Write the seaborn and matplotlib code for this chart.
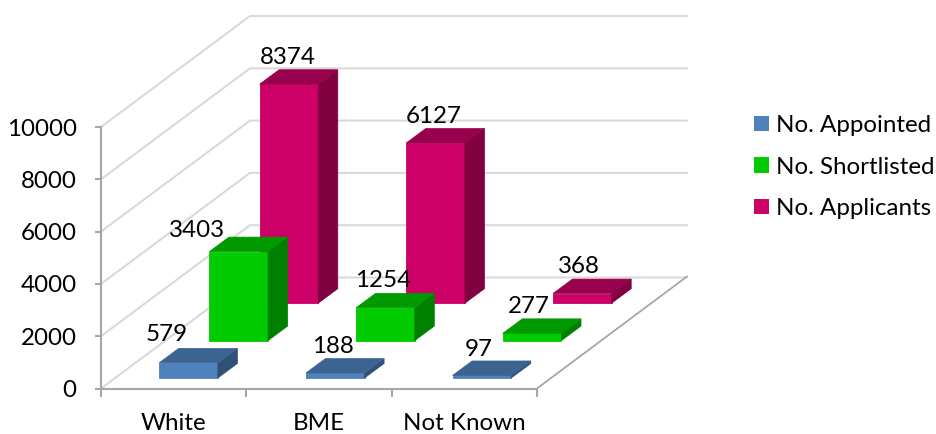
import matplotlib
matplotlib.use("Agg")
import matplotlib.pyplot as plt
import pandas as pd
import seaborn as sns
from matplotlib.patches import Patch, Polygon
from matplotlib.lines import Line2D
from matplotlib.transforms import Affine2D, IdentityTransform

categories = ["White", "BME", "Not Known"]
series_names = ["No. Appointed", "No. Shortlisted", "No. Applicants"]
appointed = [579, 188, 97]
shortlisted = [3403, 1254, 277]
applicants = [8374, 6127, 368]
y_ticks = [0, 2000, 4000, 6000, 8000, 10000]

FRONT = ["#4F81BD", "#00CC00", "#CC0066"]
TOP = ["#3C6491", "#009900", "#99004D"]
SIDE = ["#2F5079", "#008000", "#800040"]

W, H = 937, 434
AX_L, AX_R, AX_B, AX_T = 101, 537, 388.5, 127

sns.set_theme(style="white")
plt.rcParams["font.family"] = ["Lato", "DejaVu Sans"]
FS = 17.4

df = pd.DataFrame({
    "category": categories * 3,
    "series": sum([[s] * 3 for s in series_names], []),
    "value": appointed + shortlisted + applicants,
})

fig = plt.figure(figsize=(W / 100, H / 100), dpi=100, facecolor="white")
ax = fig.add_axes([AX_L / W, (H - AX_B) / H, (AX_R - AX_L) / W, (AX_B - AX_T) / H])
ax.patch.set_visible(False)

sns.barplot(data=df, x="category", y="value", hue="series", order=categories,
            hue_order=series_names, palette=FRONT, dodge=False, width=0.4,
            legend=False, ax=ax, saturation=1)
ax.set_xlim(-0.5, 2.5)
ax.set_ylim(0, 10000)
ax.set_xlabel("")
ax.set_ylabel("")

# Axis styling
AXIS_GREY = "#A6A6A6"
for side in ("top", "right"):
    ax.spines[side].set_visible(False)
for side in ("left", "bottom"):
    ax.spines[side].set_color(AXIS_GREY)
    ax.spines[side].set_linewidth(1.5)
ax.set_yticks(y_ticks)
ax.set_xticks([-0.5, 0.5, 1.5, 2.5], minor=True)
ax.tick_params(axis="y", length=4.5, width=1.5, color=AXIS_GREY, pad=13,
               labelsize=FS, labelcolor="black", left=True)
ax.tick_params(axis="x", which="minor", length=6, width=1.5, color=AXIS_GREY, bottom=True)
ax.tick_params(axis="x", which="major", length=0, pad=17.5, labelsize=FS, labelcolor="black")

fig.canvas.draw()

# Oblique floor and walls, in display pixels
DEPTH_X, DEPTH_Y = 149, 111
to_px = ax.transData
for v in y_ticks:
    x0, y0 = to_px.transform((-0.5, v))
    x1, y1 = x0 + DEPTH_X, y0 + DEPTH_Y
    fig.add_artist(Line2D([x0, x1, 687], [y0, y1, y1], transform=IdentityTransform(),
                          color="#D9D9D9", lw=1.5, zorder=0))
fx, fy = to_px.transform((2.5, 0))
fig.add_artist(Line2D([fx, 687], [fy, fy + DEPTH_Y + 1], transform=IdentityTransform(),
                      color=AXIS_GREY, lw=1.3, zorder=0))
ax.set_zorder(2)

# Each series sits one step further back on the floor
X_ANCHOR, _ = to_px.transform((0, 0))
Y_ANCHOR = H - AX_B
X_STRETCH = 146.7 / ((AX_R - AX_L) / 3)
STEP_X, STEP_Y = 50.2, 37.4
BAR_DX, BAR_DY = 14.8, 10.5
SIDE_DX, SIDE_DY = 19.6, 14.5

# Label nudges in pixels: (White, BME, Not Known) per series
nudges = {0: [(-22, 28), (-2, 27), (-3, 26)],
          1: [(-42, 21), (-2, 27), (-3, 27)],
          2: [(-1, 27), (-2, 26), (-3, 27)]}

for s, container in enumerate(ax.containers):
    shift = (Affine2D().translate(-X_ANCHOR, -Y_ANCHOR).scale(X_STRETCH, 1)
             .translate(X_ANCHOR + BAR_DX + s * STEP_X, Y_ANCHOR + BAR_DY + s * STEP_Y))
    trans = ax.transData + shift
    z = 10 - s
    for c, bar in enumerate(container.patches):
        bar.set_transform(trans)
        bar.set_clip_on(False)
        bar.set_zorder(z)
        bar.set_edgecolor(FRONT[s])
        bar.set_linewidth(0.6)
        left, value = bar.get_x(), bar.get_height()
        right = left + bar.get_width()
        (lx, by), (rx, ty) = trans.transform([(left, 0), (right, value)])
        side_pts = [(rx, by), (rx + SIDE_DX, by + SIDE_DY), (rx + SIDE_DX, ty + SIDE_DY), (rx, ty)]
        top_pts = [(lx, ty), (rx, ty), (rx + SIDE_DX, ty + SIDE_DY), (lx + SIDE_DX, ty + SIDE_DY)]
        ax.add_patch(Polygon(side_pts, closed=True, transform=IdentityTransform(), clip_on=False,
                             facecolor=SIDE[s], edgecolor=SIDE[s], lw=0.5, zorder=z))
        ax.add_patch(Polygon(top_pts, closed=True, transform=IdentityTransform(), clip_on=False,
                             facecolor=TOP[s], edgecolor=TOP[s], lw=0.5, zorder=z))
        ndx, ndy = nudges[s][c]
        ax.annotate(str(int(value)), xy=((lx + rx) / 2 + ndx, ty + ndy), xycoords="figure pixels",
                    ha="center", va="center", fontsize=FS, color="black", zorder=20,
                    annotation_clip=False)

handles = [Patch(facecolor=c, edgecolor="none") for c in FRONT]
fig.legend(handles, series_names, loc="center left", bbox_to_anchor=(732 / W, (H - 167) / H),
           frameon=False, fontsize=FS, handlelength=0.63, handleheight=0.63, handletextpad=0.3,
           labelspacing=0.85, labelcolor="black")

fig.savefig("out.png", dpi=100, facecolor="white")
